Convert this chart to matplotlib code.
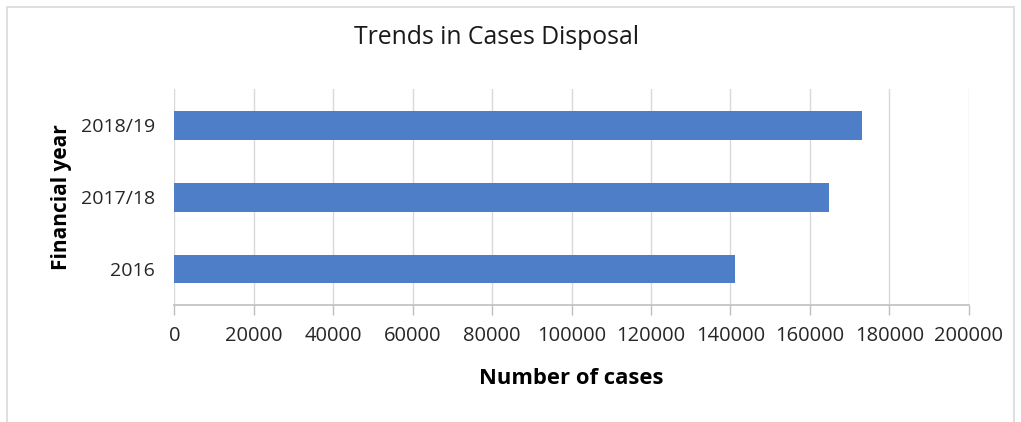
import matplotlib.pyplot as plt
from matplotlib.patches import Rectangle

years = ['2016', '2017/18', '2018/19']
cases = [141100, 164700, 173100]
x_ticks = [0, 20000, 40000, 60000, 80000, 100000, 120000, 140000, 160000, 180000, 200000]

plt.rcParams['font.family'] = ['Open Sans', 'DejaVu Sans']

fig = plt.figure(figsize=(10.21, 4.22), dpi=100)
ax = fig.add_axes([0.1707, 0.2773, 0.7781, 0.5107])

# outer chart frame
fig.patches.append(Rectangle((7 / 1021, -0.05), 1007 / 1021, 1 - 7 / 422 + 0.05,
                             transform=fig.transFigure, fill=False,
                             edgecolor='#d9d9d9', linewidth=1.2))

ax.barh(years, cases, height=0.4, color='#4e7ec8', zorder=3)

ax.set_xlim(0, 200000)
ax.set_ylim(-0.5, 2.5)
ax.set_xticks(x_ticks)
ax.set_xticklabels([str(t) for t in x_ticks], fontsize=14.5, color='#262626')
ax.tick_params(axis='y', labelsize=14, labelcolor='#262626', length=0, pad=14)
ax.tick_params(axis='x', length=7, width=1, color='#bfbfbf', pad=8)

ax.grid(axis='x', color='#d9d9d9', linewidth=1, zorder=0)
for s in ['top', 'right', 'left']:
    ax.spines[s].set_visible(False)
ax.spines['bottom'].set_color('#bfbfbf')
ax.spines['bottom'].set_linewidth(1.2)

ax.set_xlabel('Number of cases', fontsize=15.8, fontweight='bold', labelpad=16)
ax.set_ylabel('Financial year', fontsize=15, fontweight='bold', labelpad=6)

fig.text(497 / 1021, 1 - 38 / 422, 'Trends in Cases Disposal', ha='center', va='center',
         fontsize=17.8, color='#1a1a1a')

fig.savefig('out.png', dpi=100)
